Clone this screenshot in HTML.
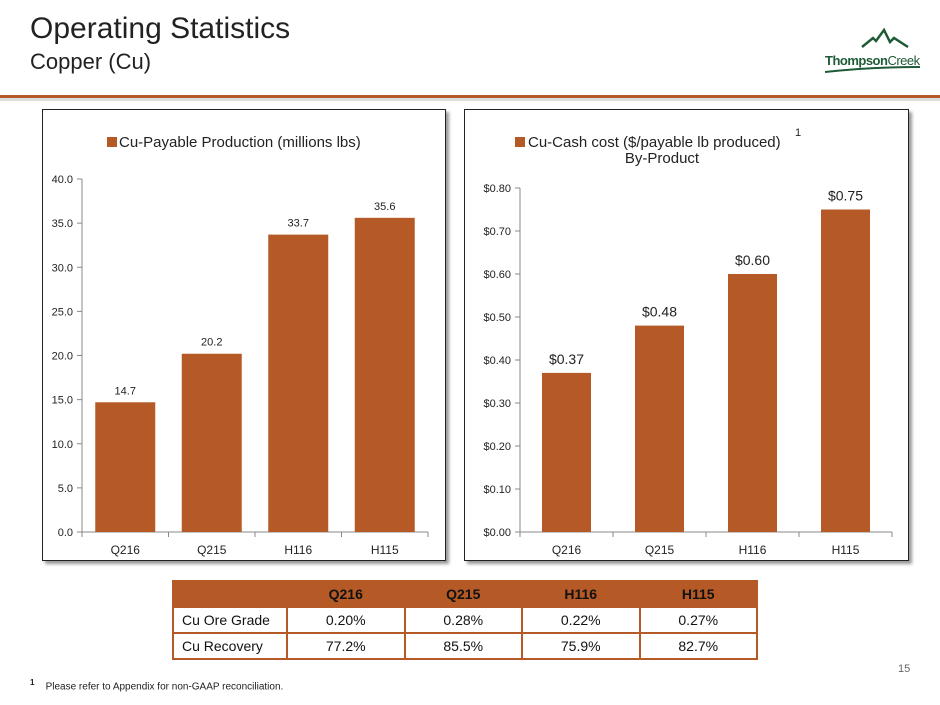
<!DOCTYPE html>
<html><head><meta charset="utf-8"><style>
body{margin:0;width:940px;height:705px;background:#fff;font-family:"Liberation Sans",sans-serif;position:relative;overflow:hidden}
.abs{position:absolute}
.panel{position:absolute;border:1.5px solid #222;background:#fff;box-shadow:3px 3px 3px #999}
table{border-collapse:collapse;position:absolute;left:172px;top:580px;width:586px;font-size:14px}
td,th{border:2px solid #b55a26;text-align:center;color:#111;padding:0}
th{background:#b55a26;font-weight:bold;color:#111;height:24px}
td{height:24px}
td:first-child{text-align:left;padding-left:8px}
</style></head><body>
<div class="abs" style="left:30px;top:12px;font-size:30px;color:#222">Operating Statistics</div>
<div class="abs" style="left:30px;top:49px;font-size:22px;color:#222">Copper (Cu)</div>
<svg class="abs" style="left:820px;top:20px" width="120" height="55">
<path d="M42 27 L53 18 L56 21 L64 10 L70 22 L74 18 L88 27" fill="none" stroke="#1e5a36" stroke-width="2.5"/>
<text x="5" y="45" font-size="13" fill="#1e5a36" font-family="Liberation Sans" letter-spacing="-0.5"><tspan font-weight="bold">Thompson</tspan><tspan>Creek</tspan></text>
<path d="M5 52 Q50 47 100 47" stroke="#1e5a36" stroke-width="2" fill="none"/>
</svg>
<div class="abs" style="left:0;top:95px;width:940px;height:3px;background:#b55a26"></div>
<div class="abs" style="left:0;top:98px;width:940px;height:3px;background:#ddd"></div>

<div class="panel" style="left:42px;top:109px;width:402px;height:450px"></div>
<div class="panel" style="left:464px;top:109px;width:443px;height:450px"></div>
<svg id="c" class="abs" style="left:0;top:0" width="940" height="705"></svg>

<table>
<tr><th style="width:112px"></th><th>Q216</th><th>Q215</th><th>H116</th><th>H115</th></tr>
<tr><td>Cu Ore Grade</td><td>0.20%</td><td>0.28%</td><td>0.22%</td><td>0.27%</td></tr>
<tr><td>Cu Recovery</td><td>77.2%</td><td>85.5%</td><td>75.9%</td><td>82.7%</td></tr>
</table>
<div class="abs" style="left:898px;top:663px;font-size:11px;color:#666">15</div>
<div class="abs" style="left:30px;top:678px;font-size:10px;color:#222"><sup style="font-weight:bold;font-size:8px">1</sup>&nbsp;&nbsp;&nbsp; Please refer to Appendix for non-GAAP reconciliation.</div>

<script>
const categories=["Q216","Q215","H116","H115"];
const production=[14.7,20.2,33.7,35.6];
const prodTicks=[0,5,10,15,20,25,30,35,40];
const cost=[0.37,0.48,0.60,0.75];
const costTicks=[0,0.1,0.2,0.3,0.4,0.5,0.6,0.7,0.8];
const svg=document.getElementById('c');
const NS='http://www.w3.org/2000/svg';
function mk(t,a,txt){const e=document.createElementNS(NS,t);for(const k in a)e.setAttribute(k,a[k]);if(txt!==undefined)e.textContent=txt;svg.appendChild(e);return e;}
function chart(o){
 const y=v=>o.y0-(v-o.min)/(o.max-o.min)*(o.y0-o.y1);
 const bw=(o.x1-o.x0)/o.cats.length;
 mk('line',{x1:o.x0,y1:o.y1,x2:o.x0,y2:o.y0,stroke:'#888'});
 mk('line',{x1:o.x0,y1:o.y0,x2:o.x1,y2:o.y0,stroke:'#888'});
 o.ticks.forEach(t=>{
  mk('line',{x1:o.x0-5,y1:y(t),x2:o.x0,y2:y(t),stroke:'#888'});
  const l=mk('text',{x:o.x0-9,y:y(t)+4,'font-size':11,'text-anchor':'end',fill:'#222'},o.fmt(t));
  
  
 });
 for(let i=0;i<=o.cats.length;i++)mk('line',{x1:o.x0+i*bw,y1:o.y0,x2:o.x0+i*bw,y2:o.y0+5,stroke:'#888'});
 o.cats.forEach((c,i)=>{
  const cx=o.x0+bw*(i+.5),v=o.vals[i];
  const r=mk('rect',{x:cx-o.w/2,y:y(v),width:o.w,height:o.y0-y(v),fill:'#b55a26'});
  
  
  const vl=mk('text',{x:cx,y:y(v)-o.lg,'font-size':o.vs,'text-anchor':'middle',fill:'#222'},o.vfmt(v));
  
  
  const xl=mk('text',{x:cx,y:o.y0+22,'font-size':12,'text-anchor':'middle',fill:'#222'},c);
  
  
 });
}
chart({x0:82,x1:428,y0:532,y1:179,min:0,max:40,ticks:prodTicks,cats:categories,vals:production,w:60,fmt:t=>t.toFixed(1),vfmt:v=>v.toFixed(1),vs:11,lg:8});
chart({x0:520,x1:892,y0:532,y1:188,min:0,max:0.8,ticks:costTicks,cats:categories,vals:cost,w:49,fmt:t=>'$'+t.toFixed(2),vfmt:v=>'$'+v.toFixed(2),vs:14,lg:9});
let e=mk('rect',{x:107,y:137,width:10,height:10,fill:'#b55a26'});


e=mk('text',{x:119,y:147,'font-size':15,fill:'#222'},'Cu-Payable Production (millions lbs)');


e=mk('rect',{x:515,y:137,width:10,height:10,fill:'#b55a26'});


e=mk('text',{x:528,y:147,'font-size':15,fill:'#222'},'Cu-Cash cost ($/payable lb produced)');


mk('text',{x:795,y:136,'font-size':11,fill:'#222'},'1');
e=mk('text',{x:662,y:163,'font-size':15,'text-anchor':'middle',fill:'#222'},'By-Product');


</script>
</body></html>
